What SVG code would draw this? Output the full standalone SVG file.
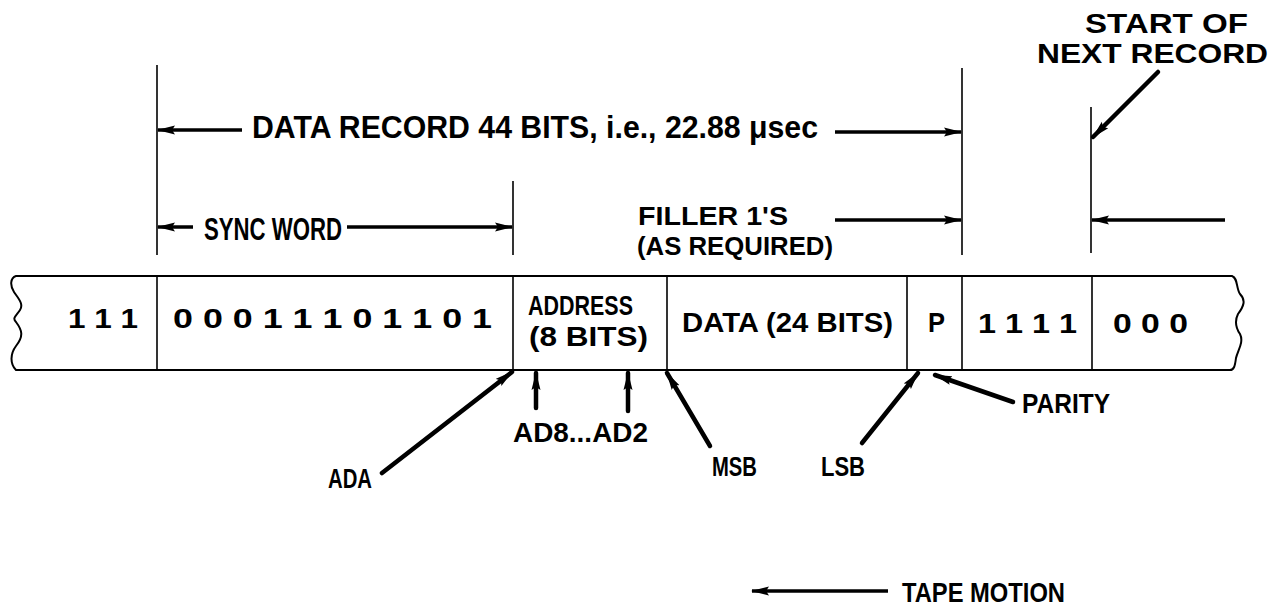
<svg xmlns="http://www.w3.org/2000/svg" width="1287" height="609" viewBox="0 0 1287 609">
<style>
  .t { font-family: "Liberation Sans", "DejaVu Sans", sans-serif; font-weight: bold; fill: #000; }
  .lab { font-size: 32px; }
  .fl { font-size: 26px; }
  .sm { font-size: 28px; }
  .tape { fill: none; stroke: #000; stroke-width: 2; }
  .div { stroke: #000; stroke-width: 1.6; }
  .ext { stroke: #000; stroke-width: 1.6; }
  .arr { stroke: #000; stroke-width: 3.5; fill: none; marker-end: url(#ah); }
  .ptr { stroke: #000; stroke-width: 4.5; fill: none; marker-end: url(#ah); stroke-linecap: round; }
</style>
<defs>
  <marker id="ah" markerUnits="userSpaceOnUse" markerWidth="18" markerHeight="10" refX="17" refY="5" orient="auto">
    <path d="M0,0.5 L18,5 L0,9.5 L3,5 z" fill="#000"/>
  </marker>
</defs>
<rect width="1287" height="609" fill="#fff"/>

<g id="tape">
  <path class="tape" d="M16,276 L1232,276 C1238,278 1236,288 1240,294 C1246,300 1244,306 1238,314 C1234,322 1236,328 1240,334 C1244,342 1238,350 1236,358 C1235,366 1234,370 1230,370 L16,370 C10,364 10,354 16,346 C24,336 22,330 16,322 C12,318 16,316 20,310 C24,304 18,298 14,292 C10,286 10,278 16,276 z"/>
  <line class="div" x1="157" y1="276" x2="157" y2="370"/>
  <line class="div" x1="513" y1="276" x2="513" y2="370"/>
  <line class="div" x1="667" y1="276" x2="667" y2="370"/>
  <line class="div" x1="907" y1="276" x2="907" y2="370"/>
  <line class="div" x1="962" y1="276" x2="962" y2="370"/>
  <line class="div" x1="1092" y1="276" x2="1092" y2="370"/>
</g>

<g id="cell-prev-ones">
  <text class="t sm" x="68" y="328" textLength="70" lengthAdjust="spacingAndGlyphs">1 1 1</text>
</g>
<g id="cell-sync">
  <text class="t sm" x="173" y="328" textLength="319" lengthAdjust="spacingAndGlyphs">0 0 0 1 1 1 0 1 1 0 1</text>
</g>
<g id="cell-address">
  <text class="t sm" x="528" y="315" textLength="105" lengthAdjust="spacingAndGlyphs">ADDRESS</text>
  <text class="t sm" x="529" y="346" textLength="119" lengthAdjust="spacingAndGlyphs">(8 BITS)</text>
</g>
<g id="cell-data">
  <text class="t sm" x="682" y="332" textLength="211" lengthAdjust="spacingAndGlyphs">DATA (24 BITS)</text>
</g>
<g id="cell-parity">
  <text class="t sm" x="928" y="332" textLength="17" lengthAdjust="spacingAndGlyphs">P</text>
</g>
<g id="cell-filler">
  <text class="t sm" x="978" y="333" textLength="99" lengthAdjust="spacingAndGlyphs">1 1 1 1</text>
</g>
<g id="cell-next">
  <text class="t sm" x="1113" y="333" textLength="75" lengthAdjust="spacingAndGlyphs">0 0 0</text>
</g>

<g id="label-data-record">
  <text class="t lab" x="252" y="138" textLength="566" lengthAdjust="spacingAndGlyphs">DATA RECORD 44 BITS, i.e., 22.88 μsec</text>
</g>
<g id="label-sync-word">
  <text class="t lab" x="204" y="240" textLength="138" lengthAdjust="spacingAndGlyphs">SYNC WORD</text>
</g>
<g id="label-filler">
  <text class="t fl" x="638" y="225" textLength="150" lengthAdjust="spacingAndGlyphs">FILLER 1'S</text>
  <text class="t fl" x="637" y="255" textLength="196" lengthAdjust="spacingAndGlyphs">(AS REQUIRED)</text>
</g>
<g id="label-start-next">
  <text class="t sm" x="1085" y="33" textLength="163" lengthAdjust="spacingAndGlyphs">START OF</text>
  <text class="t sm" x="1037" y="63" textLength="231" lengthAdjust="spacingAndGlyphs">NEXT RECORD</text>
</g>
<g id="label-ada">
  <text class="t sm" x="328" y="488" textLength="44" lengthAdjust="spacingAndGlyphs">ADA</text>
</g>
<g id="label-ad8-ad2">
  <text class="t sm" x="513" y="442" textLength="135" lengthAdjust="spacingAndGlyphs">AD8...AD2</text>
</g>
<g id="label-msb">
  <text class="t sm" x="712" y="476" textLength="45" lengthAdjust="spacingAndGlyphs">MSB</text>
</g>
<g id="label-lsb">
  <text class="t sm" x="821" y="476" textLength="44" lengthAdjust="spacingAndGlyphs">LSB</text>
</g>
<g id="label-parity">
  <text class="t sm" x="1022" y="413" textLength="88" lengthAdjust="spacingAndGlyphs">PARITY</text>
</g>
<g id="label-tape-motion">
  <text class="t sm" x="902" y="602" textLength="163" lengthAdjust="spacingAndGlyphs">TAPE MOTION</text>
</g>

<g id="connectors">
  <line class="ext" x1="157" y1="65" x2="157" y2="255"/>
  <line class="ext" x1="513" y1="181" x2="513" y2="255"/>
  <line class="ext" x1="962" y1="68" x2="962" y2="255"/>
  <line class="ext" x1="1091" y1="107" x2="1091" y2="253"/>

  <line class="arr" x1="242" y1="130" x2="158" y2="130"/>
  <line class="arr" x1="835" y1="132" x2="961" y2="132"/>
  <line class="arr" x1="193" y1="227" x2="158" y2="227"/>
  <line class="arr" x1="347" y1="227" x2="512" y2="227"/>
  <line class="arr" x1="835" y1="220" x2="961" y2="220"/>
  <line class="arr" x1="1225" y1="220" x2="1092" y2="220"/>
  <line class="arr" x1="888" y1="591" x2="752" y2="591"/>

  <line class="ptr" x1="1158" y1="72" x2="1093" y2="137"/>
  <line class="ptr" x1="382" y1="473" x2="512" y2="372"/>
  <line class="ptr" x1="536" y1="408" x2="536" y2="373"/>
  <line class="ptr" x1="628" y1="411" x2="628" y2="373"/>
  <line class="ptr" x1="710" y1="446" x2="667" y2="373"/>
  <line class="ptr" x1="862" y1="443" x2="918" y2="373"/>
  <line class="ptr" x1="1013" y1="402" x2="935" y2="375"/>
</g>
</svg>
